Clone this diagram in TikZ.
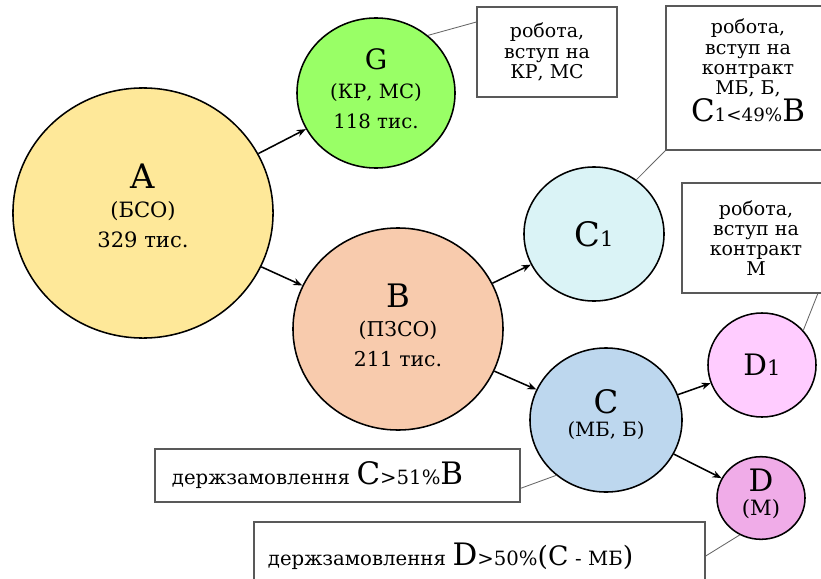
\documentclass[tikz,border=0pt]{standalone}
\usepackage{fontspec}
\setmainfont{DejaVu Serif}
\usepackage{tikz}
\usetikzlibrary{shapes.geometric,arrows.meta}
\definecolor{colA}{RGB}{254,232,153}
\definecolor{colG}{RGB}{153,255,102}
\definecolor{colB}{RGB}{248,203,173}
\definecolor{colCone}{RGB}{218,243,246}
\definecolor{colC}{RGB}{189,215,238}
\definecolor{colDone}{RGB}{255,204,255}
\definecolor{colD}{RGB}{240,172,232}
\def\fsz#1#2{{\fontsize{#1}{#1}\selectfont #2}}
\tikzset{
	circ/.style={ellipse, draw=black, line width=1.1pt, inner sep=0pt, align=center},
	note/.style={draw=black!65, line width=0.9pt, fill=white, inner sep=0pt, align=center, font=\fontsize{13.5}{14.3}\selectfont},
	link/.style={draw=black!60, line width=0.6pt},
	arr/.style={-{Stealth[length=6.5pt, width=5pt]}, line width=1.1pt}
}
\begin{document}
\begin{tikzpicture}[x=0.025cm, y=-0.025cm]
			%%%%% START %%%%%
			\useasboundingbox (0, 0) rectangle (821, 578);
			\clip (0, 0) rectangle (821, 578);
			
			\node[circ, fill=colA, minimum width=6.5cm, minimum height=6.25cm, text depth=11pt, font=\fontsize{15}{21}\selectfont] (A) at (143, 213) {\fsz{24}{A}\\(БСО)\\329 тис.};
			\node[circ, fill=colG, minimum width=3.95cm, minimum height=3.75cm, text depth=6.5pt, font=\fontsize{14}{21}\selectfont] (G) at (376, 93) {\fsz{20}{G}\\(КР, МС)\\118 тис.};
			\node[circ, fill=colB, minimum width=5.25cm, minimum height=5.05cm, text depth=6pt, font=\fontsize{14.5}{21}\selectfont] (B) at (398, 329) {\fsz{23}{B}\\(ПЗСО)\\211 тис.};
			\node[circ, fill=colCone, minimum width=3.5cm, minimum height=3.35cm] (C1) at (594, 234) {\fsz{24}{C}\fsz{15}{1}};
			\node[circ, fill=colC, minimum width=3.8cm, minimum height=3.6cm, text depth=10pt, font=\fontsize{14}{17}\selectfont] (C) at (606, 420) {\fsz{23}{C}\\(МБ, Б)};
			\node[circ, fill=colDone, minimum width=2.7cm, minimum height=2.6cm] (D1) at (762, 365) {\fsz{21}{D}\fsz{15}{1}};
			\node[circ, fill=colD, minimum width=2.2cm, minimum height=2.05cm, text depth=8.5pt, font=\fontsize{15}{17}\selectfont] (D) at (761, 498) {\fsz{22}{D}\\(М)};
			
			\node[note, minimum width=3.5cm, minimum height=2.25cm] (Gnote) at (547, 52) {робота,\\вступ на\\КР, МС};
			\node[note, minimum width=4.1cm, minimum height=3.6cm, text depth=11pt] (C1note) at (748, 78) {робота,\\вступ на\\контракт\\МБ, Б,\\\fsz{22}{C}\fsz{13}{1<49\%}\fsz{22}{B}};
			\node[note, minimum width=3.7cm, minimum height=2.75cm] (D1note) at (756, 238) {робота,\\вступ на\\контракт\\М};
			\node[note, align=left, text width=8.275cm, inner xsep=0.425cm, minimum height=1.325cm, font=\fontsize{14}{16}\selectfont] (order1) at (337.5, 475.5) {держзамовлення \fsz{22}{C}\fsz{14}{>51\%}\fsz{22}{B}};
			\node[note, align=left, text width=10.575cm, inner xsep=0.35cm, minimum height=1.7cm, font=\fontsize{14}{16}\selectfont] (order2) at (479.5, 556) {держзамовлення \fsz{22}{D}\fsz{14}{>50\%}\fsz{19}{(C}\fsz{14}{~-~МБ}\fsz{19}{)}};
			
			\draw[arr] (A) -- (G);
			\draw[arr] (A) -- (B);
			\draw[arr] (B) -- (C1);
			\draw[arr] (B) -- (C);
			\draw[arr] (C) -- (D1);
			\draw[arr] (C) -- (D);
			
			\draw[link] (G.48) -- (Gnote.157);
			\draw[link] (C1.52) -- (C1note.south west);
			\draw[link] (D1.40) -- (D1note.-42);
			\draw[link] (order1.-4) -- (C.228);
			\draw[link] (order2.east) -- (D.240);
			%%%%% END %%%%%
\end{tikzpicture}
\end{document}
